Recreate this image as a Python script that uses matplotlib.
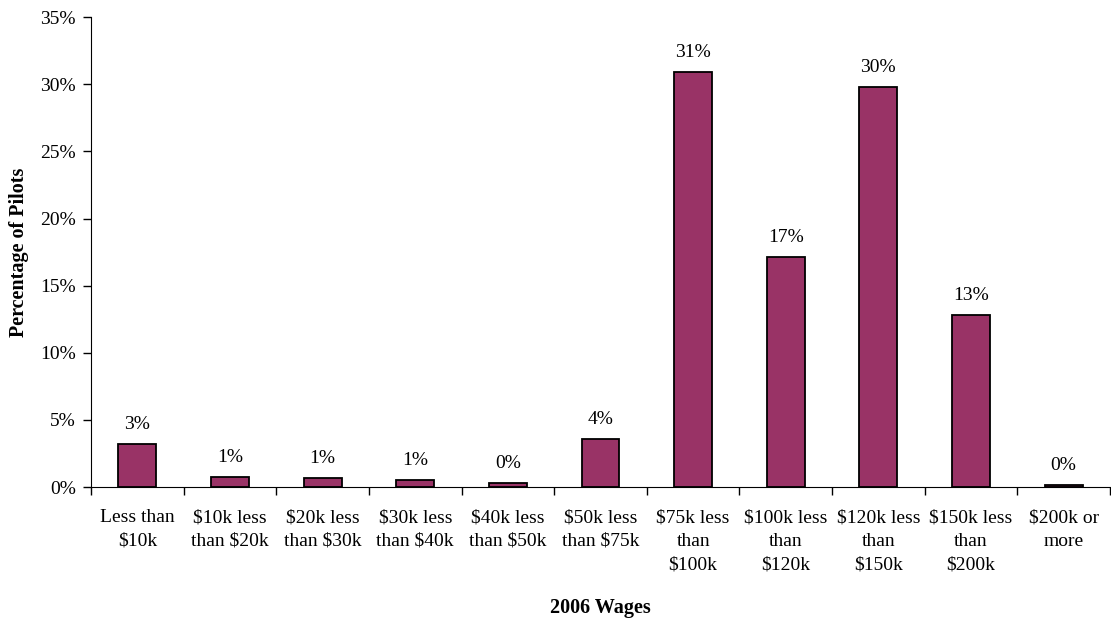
import matplotlib
matplotlib.use("Agg")
from matplotlib import pyplot as plt
from matplotlib.ticker import FixedLocator, PercentFormatter

categories = ["Less than\n$10k", "$10k less\nthan $20k", "$20k less\nthan $30k",
              "$30k less\nthan $40k", "$40k less\nthan $50k", "$50k less\nthan $75k",
              "$75k less\nthan\n$100k", "$100k less\nthan\n$120k", "$120k less\nthan\n$150k",
              "$150k less\nthan\n$200k", "$200k or\nmore"]
shares = [3.2, 0.75, 0.7, 0.55, 0.3, 3.6, 30.9, 17.1, 29.8, 12.8, 0.15]

plt.rcParams['font.family'] = ['Liberation Serif', 'DejaVu Serif']

fig = plt.figure(figsize=(11.11, 6.19), dpi=100)
ax = fig.add_axes([0.082, 0.213, 0.917, 0.7595])

xs = list(range(len(categories)))
rects = ax.bar(xs, shares, 0.41, color='#993366', edgecolor='black', linewidth=1.3)
for rect, v in zip(rects, shares):
    ax.annotate(f'{v:.0f}%', (rect.get_x() + rect.get_width()/2, rect.get_height()),
                xytext=(0, 8), textcoords='offset points',
                ha='center', va='bottom', fontsize=14)

ax.set_xlim(-0.5, len(categories) - 0.5)
ax.set_ylim(0, 35)
ax.set_yticks(range(0, 36, 5))
ax.yaxis.set_major_formatter(PercentFormatter(decimals=0))
ax.set_xticks(xs)
ax.set_xticklabels(categories, va='top', linespacing=1.5)
ax.xaxis.set_minor_locator(FixedLocator([x - 0.5 for x in range(len(categories) + 1)]))
ax.tick_params(axis='x', which='major', length=0, pad=16, labelsize=14)
ax.tick_params(axis='x', which='minor', length=6, width=1, direction='out')
ax.tick_params(axis='y', length=6, width=1, labelsize=14, pad=5)

for s in ['top', 'right']:
    ax.spines[s].set_visible(False)

ax.set_xlabel('2006 Wages', fontsize=14.5, fontweight='bold', labelpad=18)
ax.set_ylabel('Percentage of Pilots', fontsize=14.5, fontweight='bold', labelpad=8)

fig.savefig('out.png')
